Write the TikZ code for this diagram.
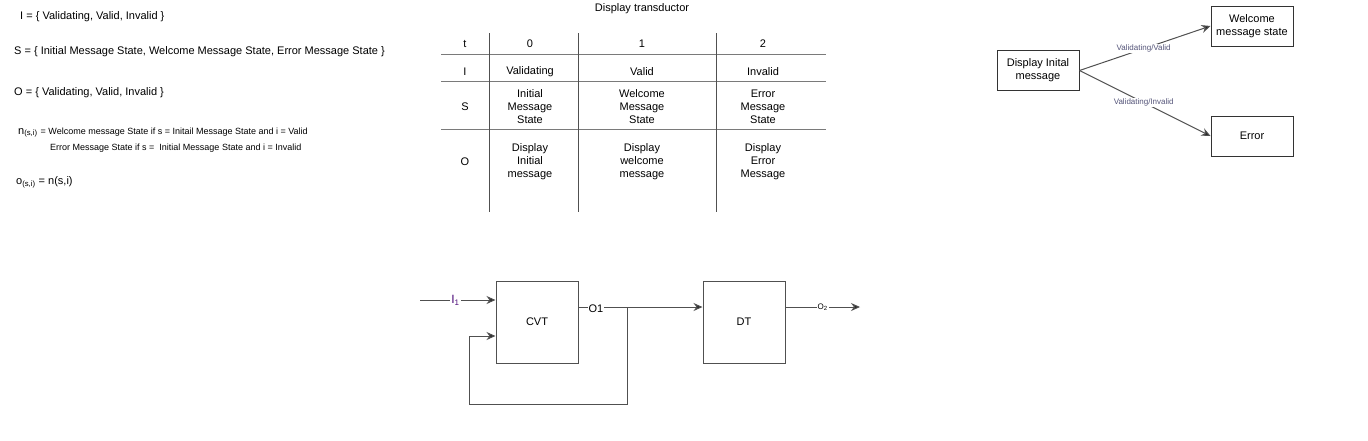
\documentclass[tikz,border=0pt]{standalone}
\usepackage{fontspec}
\setmainfont{Liberation Sans}
\usepackage{tikz}
\usetikzlibrary{arrows.meta, positioning, calc}
\definecolor{lineGray}{HTML}{505050}
\definecolor{tableGray}{HTML}{7A7A7A}
\definecolor{labelBlue}{HTML}{55557A}
\definecolor{inPurple}{HTML}{4B0A78}
\tikzstyle{arrow} = [draw=lineGray, -{Stealth[length=9pt,width=8pt,fill=black!85]}, line width=1pt]
\tikzstyle{wire} = [draw=lineGray, line width=1pt]
\tikzstyle{block} = [rectangle, draw=lineGray, line width=1pt, minimum width=82pt, minimum height=82pt, text centered, font=\fontsize{11}{13}\selectfont]
\tikzstyle{state} = [rectangle, draw=black!80, line width=1pt, minimum width=82pt, minimum height=40pt, align=center, font=\fontsize{11}{13}\selectfont]
\tikzstyle{cell} = [align=center, inner sep=0pt, yshift=-1.5pt, font=\fontsize{11}{13}\selectfont]
\tikzstyle{deftext} = [anchor=west, inner sep=0pt, yshift=-1.5pt, font=\fontsize{11}{13}\selectfont]
\tikzset{
	edgelabel/.style = {fill=white, inner sep=1pt, text=labelBlue, font=\fontsize{8}{9}\selectfont},
	wirelabel/.style = {fill=white, inner sep=1pt, font=\fontsize{11}{13}\selectfont}
}

\begin{document}
\begin{tikzpicture}[x=1pt, y=-1pt]
\useasboundingbox (0,0) rectangle (1368,440);
%----------------------------------------------------------------------------
% Definitions
\node (setI) [deftext] at (20,15) {I = \{ Validating, Valid, Invalid \}};
\node (setS) [deftext] at (14,50) {S = \{ Initial Message State, Welcome Message State, Error Message State \}};
\node (setO) [deftext] at (14,91) {O = \{ Validating, Valid, Invalid \}};
\node (nextA) [deftext, font=\fontsize{9}{11}\selectfont] at (18,131) {\fontsize{11}{13}\selectfont n\textsubscript{(s,i)} \fontsize{9}{11}\selectfont = Welcome message State if s = Initail Message State and i = Valid};
\node (nextB) [deftext, font=\fontsize{9}{11}\selectfont] at (50,147) {Error Message State if s = \ Initial Message State and i = Invalid};
\node (outFn) [deftext] at (16,181) {o\textsubscript{(s,i)} = n(s,i)};

%----------------------------------------------------------------------------
% Table
\node (tableTitle) [cell] at (642,7) {Display transductor};
\foreach \y in {54,81,129}
	\draw [tableGray, line width=1pt] (441,\y) -- (826,\y);
\foreach \x in {489,578,716}
	\draw [lineGray, line width=1pt] (\x,33) -- (\x,212);

\node (hT) [cell] at (465,42) {t};
\node (hZero) [cell] at (530,42) {0};
\node (hOne) [cell] at (642,42) {1};
\node (hTwo) [cell] at (763,42) {2};

\node (rI) [cell] at (465,70) {I};
\node (iZero) [cell] at (530,70) {Validating};
\node (iOne) [cell] at (642,70) {Valid};
\node (iTwo) [cell] at (763,70) {Invalid};

\node (rS) [cell] at (465,105) {S};
\node (sZero) [cell] at (530,105) {Initial\\Message\\State};
\node (sOne) [cell] at (642,105) {Welcome\\Message\\State};
\node (sTwo) [cell] at (763,105) {Error\\Message\\State};

\node (rO) [cell] at (465,160) {O};
\node (oZero) [cell] at (530,160) {Display\\Initial\\message};
\node (oOne) [cell] at (642,160) {Display\\welcome\\message};
\node (oTwo) [cell] at (763,160) {Display\\Error\\Message};

%----------------------------------------------------------------------------
% State diagram
\node (dispInit) [state] at (1038,70.5) {Display Inital\\message};
\node (welcome) [state] at (1252,26) {Welcome\\message state};
\node (errorState) [state] at (1252,136) {Error};

\draw [arrow] (dispInit.east) -- node [edgelabel, pos=0.49] {Validating/Valid} (welcome.west);
\draw [arrow] (dispInit.east) -- node [edgelabel, pos=0.49] {Validating/Invalid} (errorState.west);

%----------------------------------------------------------------------------
% Block diagram
\node (cvt) [block] at (537,322) {CVT};
\node (dt) [block, right=124pt of cvt] {DT};
\coordinate (inStart) at (420,300);
\coordinate (branch) at (627,307);
\coordinate (fbCorner) at (469,404);
\coordinate (outEnd) at (860,307);

\draw [arrow] (inStart) -- node [wirelabel, text=inPurple, font=\fontsize{12}{14}\selectfont, pos=0.47] {I\textsubscript{1}} ([yshift=22pt]cvt.west);
\draw [arrow] ([yshift=15pt]cvt.east) -- node [wirelabel, pos=0.14, yshift=-1.5pt] {O1} ([yshift=15pt]dt.west);
\draw [arrow] (branch) |- (fbCorner) |- ([yshift=-14pt]cvt.west);
\draw [arrow] ([yshift=15pt]dt.east) -- node [wirelabel, font=\fontsize{8}{9}\selectfont, pos=0.5] {O\textsubscript{2}} (outEnd);

\end{tikzpicture}
\end{document}
